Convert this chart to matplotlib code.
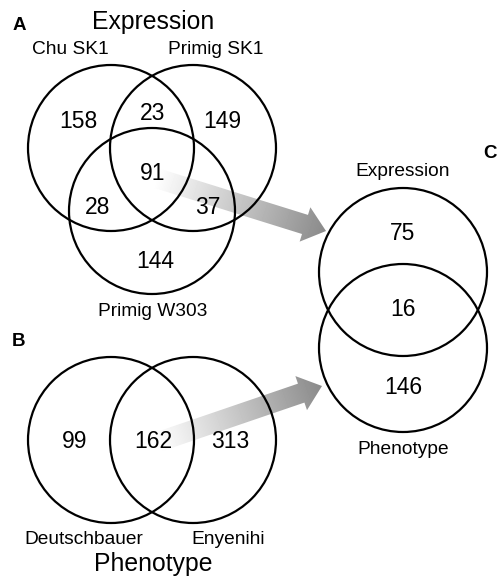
"""Venn diagrams: expression vs phenotype gene sets."""

import matplotlib
matplotlib.use("Agg")
import matplotlib.pyplot as plt
import numpy as np
from matplotlib.patches import Circle, FancyArrow

plt.rcParams["font.family"] = ["Liberation Sans", "DejaVu Sans"]

# ---------------------------------------------------------------------------
# Data
# ---------------------------------------------------------------------------
expr_sets = ["Chu SK1", "Primig SK1", "Primig W303"]
# regions: chu only, chu&sk1, sk1 only, all three, chu&w303, sk1&w303, w303 only
expr_counts = [158, 23, 149, 91, 28, 37, 144]

pheno_sets = ["Deutschbauer", "Enyenihi"]
pheno_counts = [99, 162, 313]

combo_sets = ["Expression", "Phenotype"]
combo_counts = [75, 16, 146]

panel_titles = ["Expression", "Phenotype"]
panel_letters = ["A", "B", "C"]

W, H = 503, 576
fig = plt.figure(figsize=(W / 100, H / 100), dpi=100)
ax = fig.add_axes([0, 0, 1, 1])
ax.set_xlim(0, W)
ax.set_ylim(H, 0)
ax.axis("off")

LW = 1.6
NUM_FS = 16.5
LAB_FS = 13.8
TITLE_FS = 17.8
LETTER_FS = 13.5
R = 83


def circle(cx, cy, r=R):
    ax.add_patch(Circle((cx, cy), r, fill=False, edgecolor="black", lw=LW, zorder=3))


def gradient_arrow(x0, y0, x1, y1, width=20, head_width=36, head_length=22):
    dx, dy = x1 - x0, y1 - y0
    arrow = FancyArrow(x0, y0, dx, dy, width=width, head_width=head_width,
                       head_length=head_length, length_includes_head=True,
                       facecolor="none", edgecolor="none", zorder=1)
    ax.add_patch(arrow)
    L = np.hypot(dx, dy)
    ux, uy = dx / L, dy / L
    X, Y = np.meshgrid(np.arange(W) + 0.5, np.arange(H) + 0.5)
    t = np.clip(((X - x0) * ux + (Y - y0) * uy) / L, 0, 1)
    img = 1 - 0.46 * t
    im = ax.imshow(img, cmap="gray", vmin=0, vmax=1, extent=(0, W, H, 0),
                   origin="upper", interpolation="bilinear", zorder=1)
    im.set_clip_path(arrow)


# ---------------------------------------------------------------------------
# Arrows (behind circles)
# ---------------------------------------------------------------------------
gradient_arrow(156, 178, 326, 231)
gradient_arrow(158, 442, 322, 386)
ax.set_xlim(0, W)
ax.set_ylim(H, 0)

# ---------------------------------------------------------------------------
# Panel A: three-way expression Venn
# ---------------------------------------------------------------------------
ax.text(13, 25, panel_letters[0], fontsize=LETTER_FS, fontweight="bold", va="center")
ax.text(153, 22, panel_titles[0], fontsize=TITLE_FS, ha="center", va="center")
ax.text(70, 50, expr_sets[0], fontsize=LAB_FS, ha="center", va="center")
ax.text(216, 50, expr_sets[1], fontsize=LAB_FS, ha="center", va="center")
ax.text(153, 311, expr_sets[2], fontsize=LAB_FS, ha="center", va="center")

circle(111, 148)
circle(193, 148)
circle(152, 211)

a_pos = [(78, 122), (153, 113), (222, 122), (153, 173), (98, 208), (208, 208), (155, 262)]
for (x, y), n in zip(a_pos, expr_counts):
    ax.text(x, y, str(n), fontsize=NUM_FS, ha="center", va="center", zorder=4)

# ---------------------------------------------------------------------------
# Panel B: phenotype Venn
# ---------------------------------------------------------------------------
ax.text(12, 342, panel_letters[1], fontsize=LETTER_FS, fontweight="bold", va="center")
circle(111, 440)
circle(193, 440)
b_pos = [(75, 442), (153, 442), (230, 442)]
for (x, y), n in zip(b_pos, pheno_counts):
    ax.text(x, y, str(n), fontsize=NUM_FS, ha="center", va="center", zorder=4)
ax.text(84, 540, pheno_sets[0], fontsize=LAB_FS, ha="center", va="center")
ax.text(228, 540, pheno_sets[1], fontsize=LAB_FS, ha="center", va="center")
ax.text(153, 564, panel_titles[1], fontsize=TITLE_FS, ha="center", va="center")

# ---------------------------------------------------------------------------
# Panel C: expression vs phenotype
# ---------------------------------------------------------------------------
ax.text(483, 154, panel_letters[2], fontsize=LETTER_FS, fontweight="bold", va="center")
ax.text(403, 172, combo_sets[0], fontsize=LAB_FS, ha="center", va="center")
circle(403, 272, 84)
circle(403, 348, 84)
c_pos = [(403, 233), (403, 310), (403, 387)]
for (x, y), n in zip(c_pos, combo_counts):
    ax.text(x, y, str(n), fontsize=NUM_FS, ha="center", va="center", zorder=4)
ax.text(403, 450, combo_sets[1], fontsize=LAB_FS, ha="center", va="center")

fig.savefig("out.png", dpi=100, facecolor="white")
